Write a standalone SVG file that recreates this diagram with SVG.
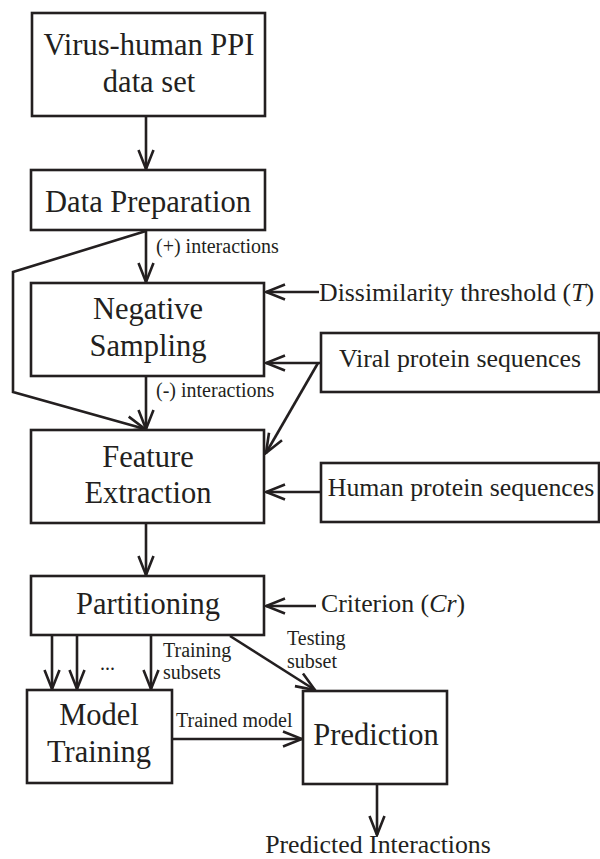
<svg xmlns="http://www.w3.org/2000/svg" width="600" height="859" viewBox="0 0 600 859">
<defs>
<style>
text{font-family:'Liberation Serif',Tinos,'Times New Roman','DejaVu Serif',serif;fill:#231f20}
.box{fill:#fff;stroke:#231f20;stroke-width:2.6}
.ln{fill:none;stroke:#231f20;stroke-width:2.6}
.big{font-size:30.5px;text-anchor:middle}
.mid{font-size:25.8px}
.sm{font-size:20px}
</style>
<marker id="ah" markerUnits="userSpaceOnUse" viewBox="0 0 22 18" markerWidth="22" markerHeight="18" refX="20" refY="9" orient="auto">
<path d="M1,1.5 L20,9 L1,16.5" fill="none" stroke="#231f20" stroke-width="2.6"/>
</marker>
</defs>
<rect width="600" height="859" fill="#fff"/>
<g id="connectors">
<line class="ln" x1="146" y1="116" x2="146" y2="169" marker-end="url(#ah)"/>
<line class="ln" x1="146" y1="230" x2="146" y2="282" marker-end="url(#ah)"/>
<polyline class="ln" points="146,231 13,272 13,392 145,429" marker-end="url(#ah)"/>
<line class="ln" x1="146" y1="376" x2="146" y2="429" marker-end="url(#ah)"/>
<line class="ln" x1="319" y1="292" x2="266" y2="292" marker-end="url(#ah)"/>
<line class="ln" x1="321" y1="363" x2="266" y2="363" marker-end="url(#ah)"/>
<line class="ln" x1="318" y1="363" x2="266" y2="453" marker-end="url(#ah)"/>
<line class="ln" x1="321" y1="492" x2="266" y2="492" marker-end="url(#ah)"/>
<line class="ln" x1="146" y1="523" x2="146" y2="575" marker-end="url(#ah)"/>
<line class="ln" x1="316" y1="606" x2="266" y2="606" marker-end="url(#ah)"/>
<line class="ln" x1="52" y1="636" x2="52" y2="689" marker-end="url(#ah)"/>
<line class="ln" x1="77" y1="636" x2="77" y2="689" marker-end="url(#ah)"/>
<line class="ln" x1="151" y1="636" x2="151" y2="689" marker-end="url(#ah)"/>
<line class="ln" x1="230" y1="636" x2="315" y2="690" marker-end="url(#ah)"/>
<line class="ln" x1="172" y1="739" x2="302" y2="739" marker-end="url(#ah)"/>
<line class="ln" x1="377" y1="784" x2="377" y2="835" marker-end="url(#ah)"/>
<text class="sm" x="156" y="253">(+) interactions</text>
<text class="sm" x="156" y="397">(-) interactions</text>
<text class="sm" x="163" y="657">Training</text>
<text class="sm" x="163" y="679">subsets</text>
<text class="sm" x="100" y="670">...</text>
<text class="sm" x="287" y="645">Testing</text>
<text class="sm" x="287" y="668">subset</text>
<text class="sm" x="176" y="727">Trained model</text>
</g>
<g id="n-virus">
<rect class="box" x="32" y="13" width="233" height="103"/>
<text class="big" x="149" y="55">Virus-human PPI</text>
<text class="big" x="149" y="92">data set</text>
</g>
<g id="n-dataprep">
<rect class="box" x="31" y="170" width="234" height="60"/>
<text class="big" x="148" y="212">Data Preparation</text>
</g>
<g id="n-negsampling">
<rect class="box" x="31" y="283" width="233" height="93"/>
<text class="big" x="148" y="319">Negative</text>
<text class="big" x="148" y="356">Sampling</text>
</g>
<g id="n-threshold">
<text class="mid" x="319" y="301">Dissimilarity threshold (<tspan font-style="italic">T</tspan>)</text>
</g>
<g id="n-viral">
<rect class="box" x="321" y="333" width="278" height="59"/>
<text class="mid" x="460" y="367" text-anchor="middle">Viral protein sequences</text>
</g>
<g id="n-feature">
<rect class="box" x="31" y="430" width="233" height="93"/>
<text class="big" x="148" y="467">Feature</text>
<text class="big" x="148" y="503">Extraction</text>
</g>
<g id="n-human">
<rect class="box" x="321" y="463" width="278" height="59"/>
<text class="mid" x="461" y="496" text-anchor="middle">Human protein sequences</text>
</g>
<g id="n-partitioning">
<rect class="box" x="31" y="576" width="233" height="59"/>
<text class="big" x="148" y="614">Partitioning</text>
</g>
<g id="n-criterion">
<text class="mid" x="321" y="612">Criterion (<tspan font-style="italic">Cr</tspan>)</text>
</g>
<g id="n-modeltraining">
<rect class="box" x="27" y="690" width="145" height="93"/>
<text class="big" x="99" y="725">Model</text>
<text class="big" x="99" y="762">Training</text>
</g>
<g id="n-prediction">
<rect class="box" x="303" y="691" width="144" height="93"/>
<text class="big" x="376" y="745">Prediction</text>
</g>
<g id="n-predicted">
<text class="mid" x="378" y="853" text-anchor="middle">Predicted Interactions</text>
</g>
</svg>
